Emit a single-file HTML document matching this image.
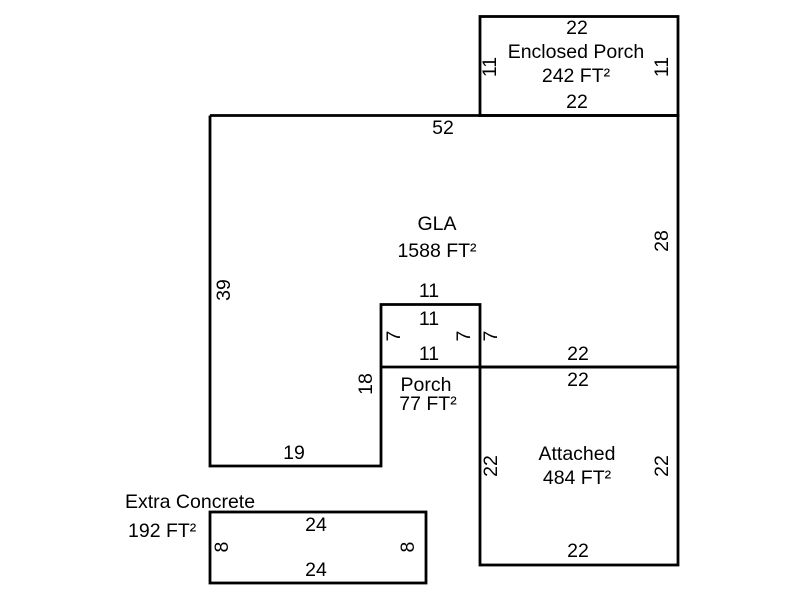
<!DOCTYPE html>
<html><head><style>html,body{margin:0;padding:0;background:#fff;}svg{display:block}</style></head>
<body>
<svg width="800" height="600" xmlns="http://www.w3.org/2000/svg" font-family="Liberation Sans, Arial, sans-serif" font-size="19.5" fill="#000">
<g fill="none" stroke="#000" stroke-width="2.8">
<rect x="480" y="16.5" width="198" height="99"/>
<polyline points="210,115.5 678,115.5 678,367 480,367 480,304.5 381,304.5 381,466 210,466 210,115.5"/>
<line x1="381" y1="367" x2="480" y2="367"/>
<rect x="480" y="367" width="198" height="198"/>
<rect x="210" y="512" width="216" height="71"/>
</g>
<g text-anchor="middle" dominant-baseline="central">
<text x="577" y="28">22</text>
<text x="576" y="52">Enclosed Porch</text>
<text x="576" y="76">242 FT²</text>
<text x="577" y="102">22</text>
<text x="443" y="128">52</text>
<text x="437" y="224">GLA</text>
<text x="437" y="251">1588 FT²</text>
<text x="429" y="291">11</text>
<text x="429" y="319">11</text>
<text x="429" y="354">11</text>
<text x="578" y="354">22</text>
<text x="578" y="380">22</text>
<text x="426" y="385">Porch</text>
<text x="428" y="404">77 FT²</text>
<text x="294" y="453">19</text>
<text x="577" y="454">Attached</text>
<text x="577" y="478">484 FT²</text>
<text x="578" y="551">22</text>
<text x="316" y="525">24</text>
<text x="316" y="570">24</text>
<g transform="rotate(-90 490 67)"><text x="490" y="67">11</text></g>
<g transform="rotate(-90 662 67)"><text x="662" y="67">11</text></g>
<g transform="rotate(-90 662 241)"><text x="662" y="241">28</text></g>
<g transform="rotate(-90 224 290)"><text x="224" y="290">39</text></g>
<g transform="rotate(-90 394 336)"><text x="394" y="336">7</text></g>
<g transform="rotate(-90 464 336)"><text x="464" y="336">7</text></g>
<g transform="rotate(-90 491 336)"><text x="491" y="336">7</text></g>
<g transform="rotate(-90 366 384)"><text x="366" y="384">18</text></g>
<g transform="rotate(-90 491 466)"><text x="491" y="466">22</text></g>
<g transform="rotate(-90 662 466)"><text x="662" y="466">22</text></g>
<g transform="rotate(-90 222 547)"><text x="222" y="547">8</text></g>
<g transform="rotate(-90 408 547)"><text x="408" y="547">8</text></g>
</g>
<text x="125" y="508">Extra Concrete</text>
<text x="128" y="537">192 FT²</text>
</svg>
</body></html>
